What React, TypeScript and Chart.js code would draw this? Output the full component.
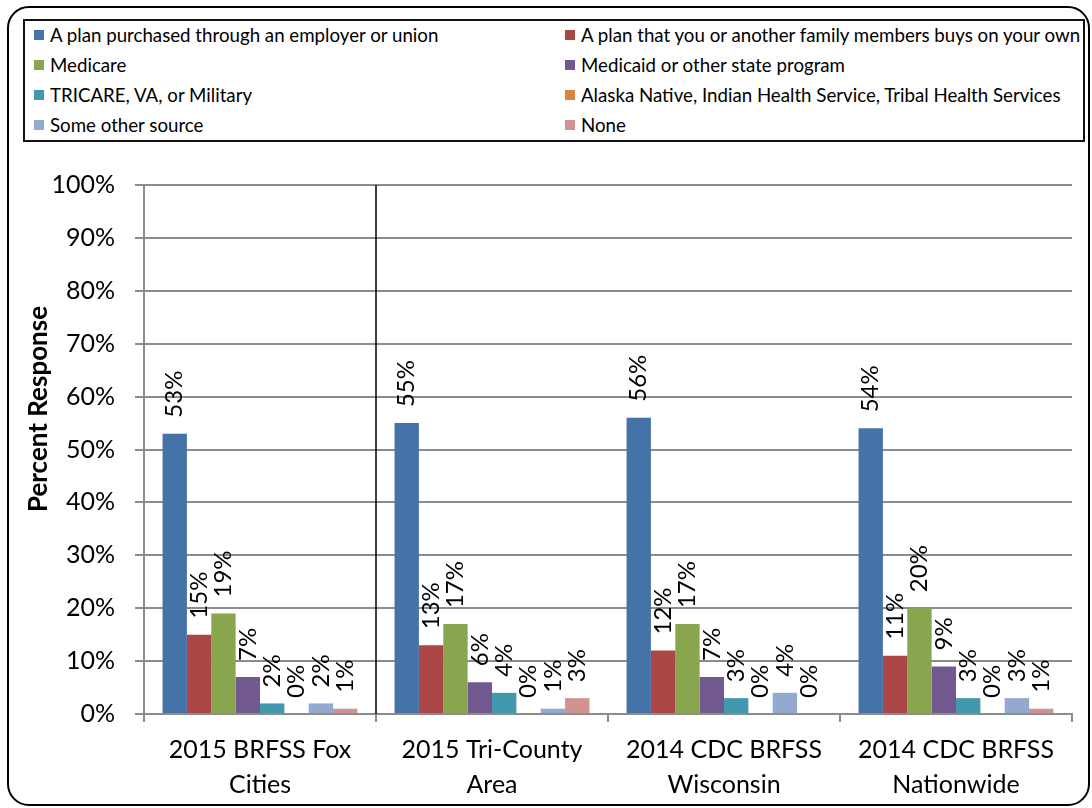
import React, { useEffect, useRef } from "react";
import { Chart, registerables } from "chart.js";

Chart.register(...registerables);

const categories: string[][] = [
  ["2015 BRFSS Fox", "Cities"],
  ["2015 Tri-County", "Area"],
  ["2014 CDC BRFSS", "Wisconsin"],
  ["2014 CDC BRFSS", "Nationwide"],
];

const seriesNames = [
  "A plan purchased through an employer or union",
  "A plan that you or another family members buys on your own",
  "Medicare",
  "Medicaid or other state program",
  "TRICARE, VA, or Military",
  "Alaska Native, Indian Health Service, Tribal Health Services",
  "Some other source",
  "None",
];

const employer = [53, 55, 56, 54];
const ownPlan = [15, 13, 12, 11];
const medicare = [19, 17, 17, 20];
const medicaid = [7, 6, 7, 9];
const tricare = [2, 4, 3, 3];
const alaska = [0, 0, 0, 0];
const otherSource = [2, 1, 4, 3];
const none = [1, 3, 0, 1];

const seriesValues = [employer, ownPlan, medicare, medicaid, tricare, alaska, otherSource, none];

const colors = ["#4572A7", "#AA4643", "#89A54E", "#71588F", "#4198AF", "#DB843D", "#93A9CF", "#D19392"];

const yTicks = [0, 10, 20, 30, 40, 50, 60, 70, 80, 90, 100];

const yTitle = "Percent Response";

const FONT = "Lato, 'Open Sans', sans-serif";

const barLabelPlugin = {
  id: "barLabels",
  afterDatasetsDraw(chart: any) {
    const ctx = chart.ctx;
    ctx.save();
    ctx.fillStyle = "#000";
    ctx.font = `24px ${FONT}`;
    ctx.textAlign = "left";
    ctx.textBaseline = "middle";
    chart.data.datasets.forEach((ds: any, di: number) => {
      const meta = chart.getDatasetMeta(di);
      meta.data.forEach((el: any, i: number) => {
        const v = ds.data[i];
        ctx.save();
        ctx.translate(el.x, el.y - 16);
        ctx.rotate(-Math.PI / 2);
        ctx.fillText(`${v}%`, 0, 0);
        ctx.restore();
      });
    });
    ctx.restore();
  },
};

const separatorPlugin = {
  id: "separator",
  afterDatasetsDraw(chart: any) {
    const x = chart.scales.x;
    const area = chart.chartArea;
    const px = (x.getPixelForValue(0) + x.getPixelForValue(1)) / 2;
    const ctx = chart.ctx;
    ctx.save();
    ctx.strokeStyle = "#000";
    ctx.lineWidth = 1.5;
    ctx.beginPath();
    ctx.moveTo(px, area.top);
    ctx.lineTo(px, area.bottom);
    ctx.stroke();
    ctx.restore();
  },
};

const yTitlePlugin = {
  id: "yTitle",
  afterDraw(chart: any) {
    const ctx = chart.ctx;
    ctx.save();
    ctx.fillStyle = "#000";
    ctx.font = `bold 26px ${FONT}`;
    ctx.textAlign = "center";
    ctx.textBaseline = "middle";
    ctx.translate(39, 409);
    ctx.rotate(-Math.PI / 2);
    ctx.fillText(yTitle, 0, 0);
    ctx.restore();
  },
};

export default function App() {
  const ref = useRef<HTMLCanvasElement | null>(null);

  useEffect(() => {
    document.body.style.margin = "0";
    if (!ref.current) return;
    const chart = new Chart(ref.current, {
      type: "bar",
      data: {
        labels: categories,
        datasets: seriesNames.map((name, i) => ({
          label: name,
          data: seriesValues[i],
          backgroundColor: colors[i],
          borderWidth: 0,
          categoryPercentage: 0.84,
          barPercentage: 1,
        })),
      },
      options: {
        responsive: false,
        animation: false,
        events: [],
        layout: { padding: { left: 0, top: 185, right: 20, bottom: 0 } },
        plugins: {
          legend: { display: false },
          tooltip: { enabled: false },
        },
        scales: {
          y: {
            min: 0,
            max: 100,
            afterBuildTicks: (scale: any) => {
              scale.ticks = yTicks.map((v) => ({ value: v }));
            },
            afterFit: (scale: any) => {
              scale.width = 144;
            },
            ticks: {
              callback: (v: any) => `${v}%`,
              font: { family: FONT, size: 25 },
              color: "#000",
              padding: 20,
            },
            grid: { color: "#8c8c8c", lineWidth: 2, tickLength: 9 },
            border: { color: "#8c8c8c", width: 2 },
          },
          x: {
            afterFit: (scale: any) => {
              scale.height = 94;
            },
            ticks: {
              font: { family: FONT, size: 25, lineHeight: 1.4 },
              color: "#000",
              padding: 10,
              maxRotation: 0,
              autoSkip: false,
            },
            grid: { drawOnChartArea: false, color: "#8c8c8c", lineWidth: 2, tickLength: 8 },
            border: { color: "#8c8c8c", width: 2 },
          },
        },
      },
      plugins: [barLabelPlugin, separatorPlugin, yTitlePlugin],
    });
    return () => chart.destroy();
  }, []);

  return (
    <div style={{ position: "relative", width: 1092, height: 808, overflow: "hidden", background: "#fff" }}>
      <div
        style={{
          position: "absolute",
          left: 7,
          top: 6,
          width: 1083,
          height: 800,
          border: "2px solid #000",
          borderRadius: 22,
          boxSizing: "border-box",
        }}
      />
      <canvas ref={ref} width={1092} height={808} style={{ position: "absolute", left: 0, top: 0 }} />
      <div
        style={{
          position: "absolute",
          left: 23,
          top: 19,
          width: 1062,
          height: 123,
          border: "2px solid #111",
          boxSizing: "border-box",
          fontFamily: FONT,
          fontSize: 18.7,
          color: "#000",
          background: "#fff",
        }}
      >
        {seriesNames.map((name, i) => {
          const col = i % 2;
          const row = Math.floor(i / 2);
          return (
            <div
              key={name}
              style={{
                position: "absolute",
                left: col === 0 ? 9 : 540,
                top: 14 + row * 30 - 10,
                height: 20,
                display: "flex",
                alignItems: "center",
                whiteSpace: "nowrap",
              }}
            >
              <span style={{ display: "inline-block", width: 10, height: 10, background: colors[i], marginRight: 6 }} />
              <span>{name}</span>
            </div>
          );
        })}
      </div>
    </div>
  );
}
